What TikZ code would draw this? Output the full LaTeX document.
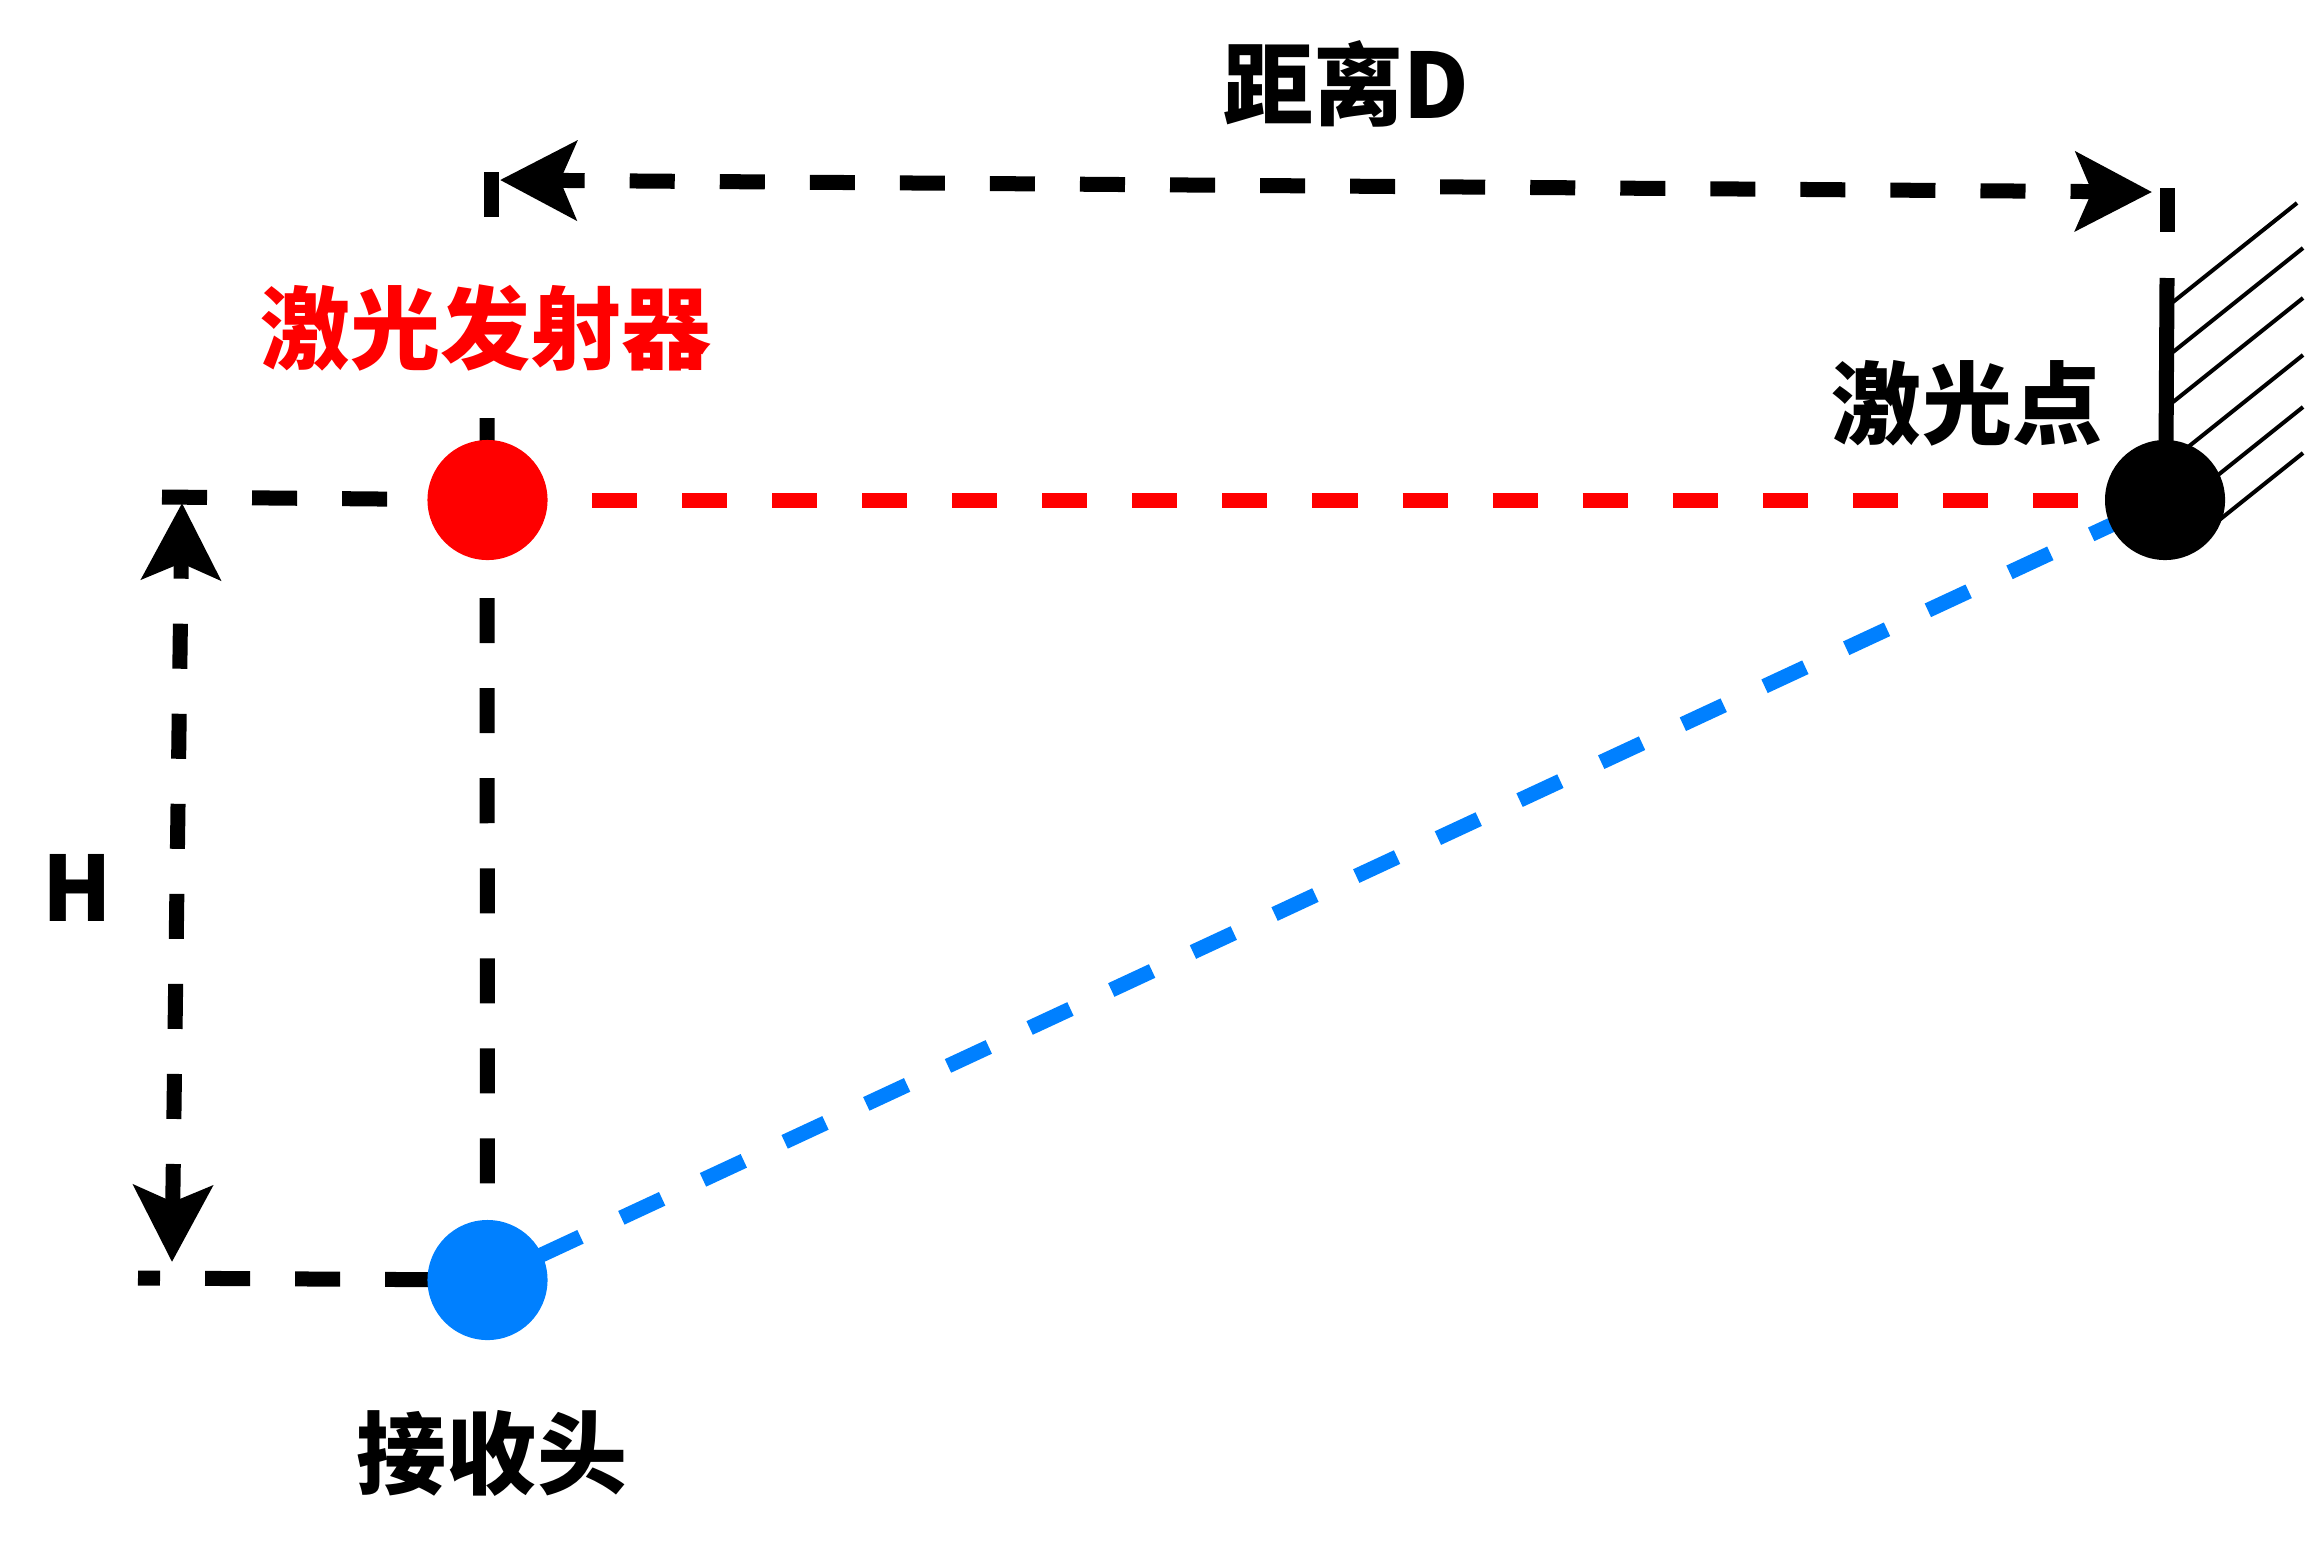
\documentclass[tikz,border=0pt]{standalone}
\usepackage{fontspec}
\newfontfamily\cjk{Noto Sans CJK SC}
\usetikzlibrary{arrows.meta}
\definecolor{laserred}{RGB}{255,0,0}
\definecolor{rxblue}{RGB}{0,128,255}
\pgfdeclarelayer{bg}
\pgfsetlayers{bg,main}
\tikzset{mytip/.tip={Stealth[length=0.76cm,width=0.78cm,inset=0.16cm]}}
\begin{document}
\begin{tikzpicture}[x=0.01cm,y=-0.01cm,
  dot/.style={circle,minimum size=1.2cm,inner sep=0pt,draw=none},
  dash90/.style={line width=0.15cm,dash pattern=on 0.45cm off 0.45cm},
  solidbar/.style={line width=0.15cm},
  lbl/.style={font=\cjk\bfseries\fontsize{25.6pt}{30pt}\selectfont,inner sep=0pt},
  hatch/.style={line width=0.04cm}]
\useasboundingbox (0,0) rectangle (2310,1545);

\node[dot,fill=laserred] (em) at (487.5,500) {};
\node[dot,fill=rxblue] (rx) at (487.5,1280) {};
\node[dot,fill=black] (pt) at (2165,500) {};

\coordinate (hl) at (162,497);
\coordinate (bl) at (138,1278);
\coordinate (vt) at (487,418);
\coordinate (Dl) at (500,180);
\coordinate (Dr) at (2152,192);
\coordinate (Ht) at (182,503);
\coordinate (Hb) at (172,1262);
\coordinate (tl1) at (491.5,172);
\coordinate (tl2) at (491.5,217);
\coordinate (tr1) at (2167.5,188);
\coordinate (tr2) at (2167.5,232);
\coordinate (w1) at (2167,278);
\coordinate (w2) at (2166,450);
\coordinate (h1a) at (2173,302); \coordinate (h1b) at (2297,203);
\coordinate (h2a) at (2173,352); \coordinate (h2b) at (2303,248);
\coordinate (h3a) at (2173,402); \coordinate (h3b) at (2303,298);
\coordinate (h4a) at (2173,459); \coordinate (h4b) at (2303,355);
\coordinate (h5a) at (2173,511); \coordinate (h5b) at (2303,407);
\coordinate (h6a) at (2173,557); \coordinate (h6b) at (2303,453);

\begin{pgfonlayer}{bg}
\draw[dash90] (hl) -- (em.center);
\draw[dash90,dash phase=0.23cm] (bl) -- (rx.center);
\draw[dash90] (vt) -- (rx.center);
\draw[dash90,laserred,dash phase=0.755cm] (em.center) -- (pt.center);
\draw[dash90,rxblue,dash phase=0.325cm] (rx.center) -- (pt.center);
\draw[dash90,dash phase=0.16cm,{mytip}-{mytip}] (Dl) -- (Dr);
\draw[dash90,dash phase=0.25cm,{mytip}-{mytip}] (Ht) -- (Hb);
\draw[solidbar] (tl1) -- (tl2);
\draw[solidbar] (tr1) -- (tr2);
\draw[solidbar] (w1) -- (w2);
\foreach \i in {1,...,6} {\draw[hatch] (h\i a) -- (h\i b);}
\end{pgfonlayer}

\node[lbl] (lD) at (1346,84) {距离D};
\node[lbl,text=laserred] (lem) at (486,328) {激光发射器};
\node[lbl] (lpt) at (1967,403) {激光点};
\node[lbl] (lrx) at (492,1453) {接收头};
\node[lbl] (lH) at (77,888) {H};
\end{tikzpicture}
\end{document}
